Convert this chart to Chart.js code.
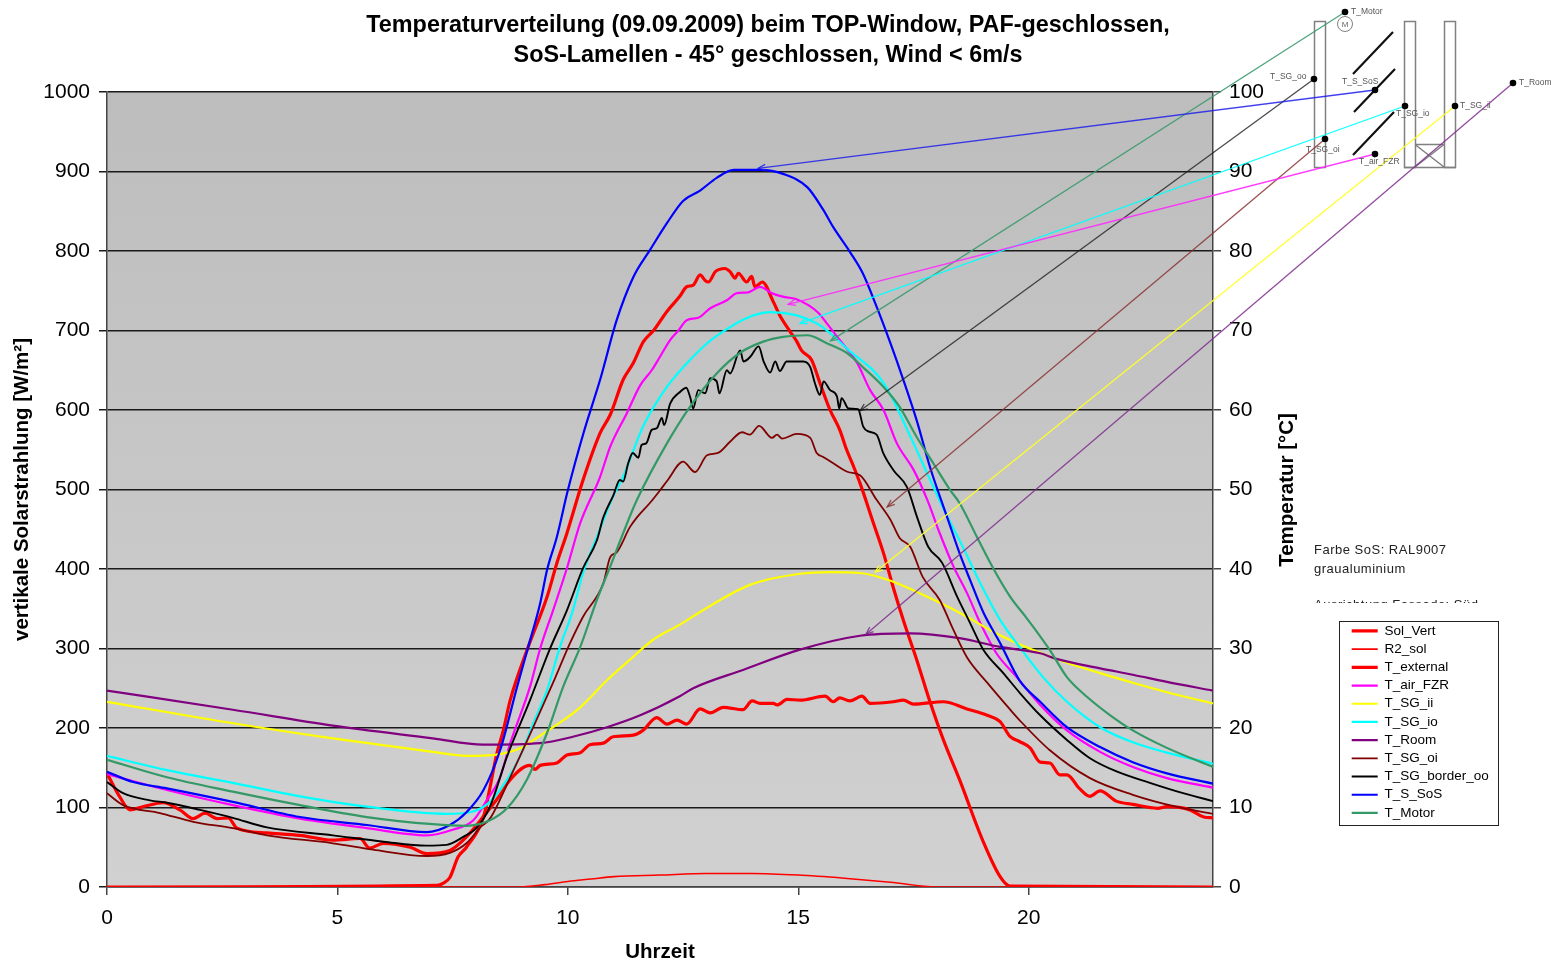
<!DOCTYPE html>
<html>
<head>
<meta charset="utf-8">
<title>Temperaturverteilung</title>
<script src="https://cdn.jsdelivr.net/npm/chart.js@4/dist/chart.umd.min.js"></script>
<style>
html,body{margin:0;padding:0;background:#fff;}
canvas{display:block;}
</style>
</head>
<body>
<canvas id="c" width="1551" height="963"></canvas>
<script>
const titleLines = ["Temperaturverteilung (09.09.2009) beim TOP-Window, PAF-geschlossen,", "SoS-Lamellen - 45° geschlossen, Wind < 6m/s"];
const xTitle = "Uhrzeit";
const yLeftTitle = "vertikale Solarstrahlung [W/m²]";
const yRightTitle = "Temperatur [°C]";
const noteLines = ["Farbe SoS: RAL9007", "graualuminium"];
const clippedNote = "Ausrichtung Fassade: Süd";

const solVertH = [0,7.16,7.3,7.44,7.62,7.8,8.17,8.3,8.46,8.6,8.75,9.14,9.55,9.76,9.98,10.33,10.7,10.92,11.2,11.42,11.64,11.86,12.15,12.43,12.58,12.72,12.87,12.98,13.05,13.2,13.41,13.52,13.63,13.7,13.88,13.99,14.06,14.22,14.46,14.6,14.82,14.97,15.07,15.29,15.47,15.69,15.9,16.05,16.2,16.34,16.63,16.85,17.06,17.3,17.57,17.87,18.15,18.5,19,19.38,19.6,24];
const solVert  = [0,2,5,12,38,50,88,122,168,197,235,302,365,407,445,512,571,594,638,659,686,700,724,743,755,757,770,763,761,774,778,774,766,772,761,768,755,761,736,719,699,686,675,663,634,600,575,550,529,508,458,420,377,332,286,231,185,135,59,13,1,0];

const r2SolH = [0,8.9,9.5,10,10.5,11,12,13,14,15,16,17,18,24];
const r2Sol  = [0,0,3,7,10,13,15,17,17,15,11,6,0,0];

const tExtH = [0,0.28,0.5,0.78,1.22,1.58,1.87,2.13,2.39,2.63,2.82,3.47,4.19,4.9,5.49,5.7,6,6.58,6.94,7.44,7.8,8.16,8.6,8.68,9.18,9.29,9.4,9.76,9.98,10.27,10.48,10.77,10.98,11.42,11.63,11.93,12.15,12.37,12.58,12.87,13.09,13.37,13.8,14,14.17,14.46,14.54,14.76,15.04,15.58,15.76,15.9,16.12,16.38,16.56,17.06,17.28,17.5,18.15,18.66,19.1,19.38,19.6,19.8,20.03,20.25,20.46,20.68,20.83,21.1,21.33,21.55,21.9,22.26,22.8,23,23.5,23.8,24];
const tExt  = [14.3,11.3,9.7,10.1,10.6,9.7,8.6,9.3,8.6,8.7,7.4,6.8,6.5,5.9,6.1,4.9,5.5,5,4.2,4.6,6.3,8.8,12.2,13,15.3,14.8,15.3,15.6,16.6,16.9,17.9,18.1,18.9,19.1,19.7,21.3,20.5,21,20.5,22.4,21.9,22.6,22.3,23.4,23.1,23.1,22.9,23.6,23.5,24,23.3,23.8,23.4,24,23.1,23.3,23.5,23,23.3,22.4,21.6,20.8,18.9,18.3,17.5,15.7,15.6,14.1,14.1,12.4,11.4,12.1,10.8,10.4,9.9,10.1,9.7,8.8,8.7];

const tAirH = [0,1.3,2.73,4.19,5.64,6.94,7.5,7.95,8.24,8.53,8.75,9.18,9.4,9.68,9.98,10.27,10.7,10.92,11.28,11.57,11.82,12,12.22,12.4,12.58,12.83,13.09,13.45,13.67,13.91,14.17,14.42,14.71,14.93,15.22,15.44,15.62,15.9,16.28,16.56,16.85,17.14,17.5,17.8,18.07,18.37,18.66,18.95,19.3,19.74,20.25,20.83,21.55,22.26,23,24];
const tAir  = [14.2,12.2,10.3,8.6,7.4,6.5,7.2,8.4,10.9,13.8,18.1,25.2,30,34.8,40.1,45.8,51.6,55.4,59.6,63.1,65,66.7,68.8,70,71.3,71.6,72.8,73.8,74.7,74.8,75.5,74.7,74.2,74,73.2,72.2,70.9,68.8,65.9,62.5,60,55.8,52.5,48.7,44.5,40.3,37,33.2,29.4,26.4,22.9,19.7,17,15.1,13.7,12.5];

const tIiH = [0,2.73,4.9,7.07,7.8,8.38,9.03,9.18,9.68,10.27,10.85,11.35,11.85,12.43,12.87,13.95,15.04,15.7,16.34,17.06,17.8,18.5,19.3,20.1,20.83,21.55,22.26,23,24];
const tIi  = [23.3,20.6,18.7,17,16.5,16.6,17.6,18.2,20.1,22.6,26,28.6,31.1,33,34.6,38,39.4,39.6,39.5,38.4,36.5,34.5,31.9,29.8,28.2,26.9,25.7,24.5,23.1];

const tIoH = [0,1.3,2.73,4.19,5.64,7.37,7.88,8.31,8.68,8.96,9.25,9.55,9.83,10.11,10.33,10.63,10.98,11.2,11.63,12.15,12.65,13.2,14.4,15.4,16.1,16.85,17.47,17.8,18.2,18.57,18.95,19.38,19.88,20.31,20.83,21.55,22.26,23,24];
const tIo  = [16.5,14.7,13.1,11.4,10.1,9.2,9.4,10.7,13.5,16.4,20.6,24.8,30.2,34.8,39.5,44,49.1,51.6,57.9,62.9,66.3,69.2,72.3,70.9,67.5,63.4,56.2,52,47,42.8,38.2,33.6,29.6,26.4,23.3,20.1,18.2,16.9,15.5];

const tRoomH = [0,2.73,4.9,7.07,8.16,9.4,10.11,10.85,11.57,12.43,12.72,13.8,15,16.34,17.43,18.5,19.38,20.25,20.6,21.55,22.26,23,24];
const tRoom  = [24.7,22.3,20.3,18.7,17.9,18.1,18.9,20.1,21.6,24,25,27.3,29.8,31.6,31.9,31.3,30.2,29.4,28.7,27.5,26.7,25.8,24.7];

const tOiH = [0,0.35,1.15,1.87,2.73,3.47,4.9,5.77,6.94,7.44,7.8,8.1,8.31,8.75,9.25,9.68,10.05,10.33,10.77,10.92,11.06,11.35,11.5,11.78,12,12.17,12.5,12.76,13.02,13.26,13.52,13.78,13.95,14.15,14.43,14.54,14.65,14.97,15.26,15.4,15.54,15.76,16.08,16.34,16.7,17,17.2,17.43,17.7,18.07,18.37,18.66,19.1,19.6,19.8,20.46,21.33,22.26,23.2,24];
const tOi  = [11.8,10.3,9.3,8.2,7.4,6.5,5.5,4.7,3.9,4.3,5.5,7.5,8.6,13.8,20.1,25.7,30.7,34,38.2,41.5,42.1,45.3,46.5,48.3,49.9,51.2,53.5,52.2,54.3,54.6,56,57.2,56.9,58,56.5,56.9,56.4,57,56.5,54.6,54.1,53.3,52.2,51.8,48.7,46.2,43.9,42.8,39,36.1,32.3,28.9,25.7,22.3,21,17.2,13.7,11.6,10.1,9.2];

const tOoH = [0,0.35,0.93,1.3,2.02,2.73,3.47,4.9,6,6.94,7.37,7.73,8.03,8.31,8.68,9.18,9.6,9.98,10.33,10.63,10.77,10.99,11.13,11.2,11.31,11.41,11.53,11.6,11.7,11.82,11.93,12.04,12.09,12.22,12.44,12.57,12.66,12.72,12.83,12.98,13.09,13.23,13.29,13.45,13.52,13.74,13.81,13.96,14.14,14.25,14.39,14.5,14.6,14.75,14.89,15.11,15.26,15.36,15.47,15.55,15.69,15.84,15.89,15.94,16.09,16.3,16.41,16.52,16.7,16.85,17.07,17.36,17.58,17.82,18.12,18.45,18.73,19.02,19.45,19.81,20.25,20.83,21.33,21.92,22.63,23.35,24];
const tOo  = [13.2,11.8,10.9,10.6,9.7,8.7,7.5,6.5,5.7,5.2,5.3,6.3,7.5,10.1,16.4,23.5,29.8,34.8,40.1,43.6,46.5,49.3,51.2,51,53.3,54.6,54,55.6,55.8,57.5,57.7,59,58.1,60.8,62.3,62.8,61.5,60.2,62.5,62.1,64,63.6,62.1,65,64.6,67.5,66.1,66.7,68,66.1,64.7,66.1,64.9,66.1,66.1,66.1,65.4,63.4,61.9,63.6,62.5,61.7,60.2,61.5,60.2,60.1,57.9,57.3,56.9,54.5,52.4,50.3,46.5,42.8,40.8,36.5,33.2,29.8,26.9,24.4,21.6,18.5,16.2,14.5,13.1,11.8,10.8];

const tSosH = [0,0.57,1.3,2.73,4.19,5.64,6.94,7.44,7.8,8.17,8.53,8.9,9.14,9.4,9.55,9.76,10,10.35,10.7,11.06,11.42,11.78,12.15,12.5,12.87,13.23,13.6,14.17,14.67,15.2,15.54,15.76,16.12,16.4,16.7,17,17.28,17.57,17.86,18.25,18.5,18.73,19.02,19.38,19.8,20.25,20.83,21.55,22.26,23,24];
const tSos  = [14.5,13.2,12.4,10.7,8.8,7.8,6.9,7.8,9.4,12.2,17.2,25.2,30.2,35.7,39.9,44,49.9,57.3,63.8,71.3,76.7,80.1,83.5,86.3,87.6,89.2,90.2,90.2,89.7,88,85.2,83,79.9,77.2,73,68.4,63.8,58.7,52.8,46.2,42,38.6,34.5,30.7,26,23.3,20.1,17.6,15.7,14.3,13];

const tMotorH = [0,1.3,2.73,4.19,5.64,7.07,7.8,8.31,8.68,9.11,9.55,9.9,10.27,10.63,10.92,11.2,11.5,12.15,12.65,13.23,13.74,14.24,14.67,15.2,15.62,16.05,16.4,16.85,17.2,17.57,17.93,18.3,18.5,18.88,19.23,19.6,19.96,20.46,20.83,21.27,21.77,22.26,23,24];
const tMotor  = [16,13.8,12,10.3,8.8,7.9,7.7,8.4,9.9,13.5,19.4,25.2,30.2,36.1,40.3,44.5,48.7,55.8,60.4,64.6,67.2,68.6,69.2,69.4,68.4,67.2,65.4,62.9,60.4,56.6,53.3,49.9,48.3,44,40.1,36.5,33.8,29.8,26.4,23.9,21.6,19.7,17.5,15.1];

const seriesNames = ["Sol_Vert","R2_sol","T_external","T_air_FZR","T_SG_ii","T_SG_io","T_Room","T_SG_oi","T_SG_border_oo","T_S_SoS","T_Motor"];
const calloutLabels = ["T_Motor","T_SG_oo","T_S_SoS","T_SG_io","T_SG_ii","T_SG_oi","T_air_FZR","T_Room"];
const calloutTargets = [[15.7,68.7],[16.34,59.9],[14.13,90.4],[15.04,70.9],[16.67,39.6],[16.93,47.8],[14.78,73.3],[16.47,31.8]];

const FONT = '"Liberation Sans", Arial, sans-serif';
const pts = (xs, ys) => xs.map((x,i)=>({x, y:ys[i]}));
function ds(i, xs, ys, color, width, axis, extra){
  return Object.assign({label:seriesNames[i], data:pts(xs,ys), borderColor:color, backgroundColor:color,
    borderWidth:width, yAxisID:axis, pointRadius:0, order:-i, fill:false,
    cubicInterpolationMode:'monotone'}, extra||{});
}
const datasets = [
  ds(0, solVertH, solVert, '#ff0000', 3.2, 'y', {clip:0}),
  ds(1, r2SolH, r2Sol, '#ff0000', 1.6, 'y', {clip:0}),
  ds(2, tExtH, tExt, '#ff0000', 3.2, 'y2'),
  ds(3, tAirH, tAir, '#ff00ff', 2.2, 'y2'),
  ds(4, tIiH, tIi, '#ffff00', 2.2, 'y2'),
  ds(5, tIoH, tIo, '#00ffff', 2.2, 'y2'),
  ds(6, tRoomH, tRoom, '#800080', 2.2, 'y2'),
  ds(7, tOiH, tOi, '#800000', 1.8, 'y2'),
  ds(8, tOoH, tOo, '#000000', 1.9, 'y2'),
  ds(9, tSosH, tSos, '#0000ff', 2.2, 'y2'),
  ds(10, tMotorH, tMotor, '#339966', 2.2, 'y2')
];

const calloutStyle = [
  {from:[1345,12], color:'rgba(60,154,110,.9)', label:[1351,12]},
  {from:[1314,79], color:'rgba(30,30,30,.8)', label:[1270,77]},
  {from:[1375,90], color:'rgba(30,30,235,.85)', label:[1342,82]},
  {from:[1405,106], color:'rgba(0,255,255,.95)', label:[1396,114]},
  {from:[1455,106], color:'rgba(255,255,40,.95)', label:[1460,106]},
  {from:[1325,139], color:'rgba(140,50,50,.85)', label:[1306,150]},
  {from:[1375,154], color:'rgba(255,40,255,.9)', label:[1359,162]},
  {from:[1513,83], color:'rgba(125,45,140,.85)', label:[1519,83]}
];

const decor = {
  id:'decor',
  beforeDraw(chart){
    const a = chart.chartArea, ctx = chart.ctx;
    const g = ctx.createLinearGradient(0,a.top,0,a.bottom);
    g.addColorStop(0,'#bdbdbd'); g.addColorStop(1,'#d1d1d1');
    ctx.save(); ctx.fillStyle = g; ctx.fillRect(a.left,a.top,a.right-a.left,a.bottom-a.top); ctx.restore();
  },
  afterLayout(chart){
    if (chart.titleBlock){ chart.titleBlock.left = 0; chart.titleBlock.right = 1536; }
    const l = chart.legend;
    l.left = 1347; l.top = 619.5; l.right = l.left + l.width; l.bottom = l.top + l.height;
    l.adjustHitBoxes();
  },
  afterDraw(chart){
    const ctx = chart.ctx, xs = chart.scales.x, ys = chart.scales.y2;
    ctx.save();
    ctx.save();
    ctx.translate(1287,490); ctx.rotate(-Math.PI/2);
    ctx.font = 'bold 20.5px '+FONT; ctx.fillStyle='#000'; ctx.textAlign='center'; ctx.textBaseline='middle';
    ctx.fillText(yRightTitle,0,0);
    ctx.restore();
    ctx.save();
    ctx.font = '13px '+FONT; ctx.letterSpacing='0.5px'; ctx.fillStyle='#222'; ctx.textAlign='left'; ctx.textBaseline='middle';
    ctx.fillText(noteLines[0],1314,550);
    ctx.fillText(noteLines[1],1314,569);
    ctx.beginPath(); ctx.rect(1300,590,250,13); ctx.clip();
    ctx.fillText(clippedNote,1314,605.5);
    ctx.restore();
    ctx.strokeStyle='#222'; ctx.lineWidth=1; ctx.strokeRect(1339.5,621.5,159,204);
    ctx.strokeStyle='#808080'; ctx.lineWidth=1.5;
    ctx.strokeRect(1314.5,21.5,11,146);
    ctx.strokeRect(1404.5,21.5,11,146);
    ctx.strokeRect(1444.5,21.5,11,146);
    ctx.beginPath();
    ctx.moveTo(1404,167.5); ctx.lineTo(1456,167.5);
    ctx.moveTo(1415,144.5); ctx.lineTo(1444,144.5);
    ctx.moveTo(1415,144.5); ctx.lineTo(1444,167);
    ctx.moveTo(1444,144.5); ctx.lineTo(1415,167);
    ctx.stroke();
    ctx.lineWidth=1;
    ctx.beginPath(); ctx.arc(1345,24,7.5,0,Math.PI*2); ctx.stroke();
    ctx.fillStyle='#666'; ctx.textAlign='center'; ctx.textBaseline='middle'; ctx.font='8px '+FONT; ctx.fillText('M',1345,24.5);
    ctx.strokeStyle='#111'; ctx.lineWidth=2.2;
    ctx.beginPath();
    ctx.moveTo(1353,74); ctx.lineTo(1393,32);
    ctx.moveTo(1354,112); ctx.lineTo(1395,69);
    ctx.moveTo(1353,155); ctx.lineTo(1394,112);
    ctx.stroke();
    calloutTargets.forEach((t,i)=>{
      const st = calloutStyle[i];
      const tx = xs.getPixelForValue(t[0]), ty = ys.getPixelForValue(t[1]);
      const [fx,fy] = st.from;
      ctx.strokeStyle = st.color; ctx.lineWidth = 1.3;
      ctx.beginPath(); ctx.moveTo(fx,fy); ctx.lineTo(tx,ty); ctx.stroke();
      const ang = Math.atan2(fy-ty,fx-tx);
      ctx.beginPath();
      ctx.moveTo(tx+8*Math.cos(ang+.38),ty+8*Math.sin(ang+.38));
      ctx.lineTo(tx,ty);
      ctx.lineTo(tx+8*Math.cos(ang-.38),ty+8*Math.sin(ang-.38));
      ctx.stroke();
      ctx.fillStyle='#000'; ctx.beginPath(); ctx.arc(fx,fy,3.3,0,Math.PI*2); ctx.fill();
      ctx.fillStyle='#555'; ctx.font='8.5px '+FONT; ctx.textAlign='left'; ctx.textBaseline='middle';
      ctx.fillText(calloutLabels[i],st.label[0],st.label[1]);
    });
    ctx.restore();
  }
};

new Chart(document.getElementById('c'), {
  type:'line',
  data:{datasets},
  plugins:[decor],
  options:{
    responsive:false, animation:false, devicePixelRatio:1,
    layout:{padding:0},
    plugins:{
      tooltip:{enabled:false},
      title:{display:true, text:titleLines, color:'#000',
        font:{family:FONT,size:23.4,weight:'bold',lineHeight:'30px'},
        padding:{top:11,bottom:21}},
      legend:{display:true, position:'chartArea', align:'start',
        labels:{usePointStyle:true, pointStyle:'line', pointStyleWidth:26, padding:4.7,
          color:'#000', font:{family:FONT,size:13.5},
          sort:(a,b)=>a.datasetIndex-b.datasetIndex}}
    },
    scales:{
      x:{type:'linear', min:0, max:24,
        afterFit(s){s.height=76;},
        title:{display:true,text:xTitle,color:'#000',font:{family:FONT,size:20.5,weight:'bold',lineHeight:1},padding:{top:0,bottom:0}},
        border:{color:'#444',width:1.5},
        grid:{drawOnChartArea:false,drawTicks:true,tickLength:8,color:'#444',lineWidth:1.5},
        ticks:{stepSize:5,includeBounds:false,color:'#000',font:{family:FONT,size:21},padding:11,maxRotation:0,callback:v=>String(v)}},
      y:{type:'linear',position:'left',min:0,max:1000,
        afterFit(s){s.width=107;},
        title:{display:true,text:yLeftTitle,color:'#000',font:{family:FONT,size:20.5,weight:'bold'},padding:{top:10.5,bottom:0}},
        border:{color:'#444',width:1.5},
        grid:{color:'#1a1a1a',lineWidth:1.5,tickLength:8},
        ticks:{stepSize:100,color:'#000',font:{family:FONT,size:21},padding:9,callback:v=>String(v)}},
      y2:{type:'linear',position:'right',min:0,max:100,
        afterFit(s){s.width=338;},
        border:{color:'#444',width:1.5},
        grid:{drawOnChartArea:false,tickLength:8,color:'#444',lineWidth:1.5},
        ticks:{stepSize:10,color:'#000',font:{family:FONT,size:21},padding:8,callback:v=>String(v)}}
    }
  }
});
</script>
</body>
</html>
